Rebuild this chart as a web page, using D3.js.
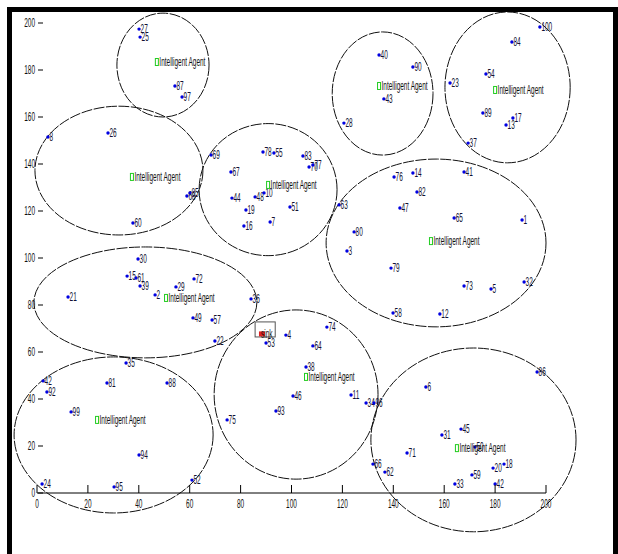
<!DOCTYPE html>
<html>
<head>
<meta charset="utf-8">
<script src="https://cdn.jsdelivr.net/npm/d3@7"></script>
<style>
  html, body { margin: 0; padding: 0; background: #fff; }
  svg { display: block; }
  text { font-family: "Liberation Sans", Arial, sans-serif; font-size: 12px; fill: #111; }
</style>
</head>
<body>
<svg id="chart" width="618" height="554"></svg>
<script>
// Sensor nodes: id label, x position, y position (field units)
const nodeIds = ["27","25","87","97","8","26","40","43","28","69","78","55","83","70","77","67","76",
  "100","84","90","23","54","89","13","17","37","41","14","82","47","65","1","73","5","32","12","58",
  "44","48","10","19","51","16","7","63","80","3","79","36","57","22","4","53","74","64","38","46",
  "93","75","11","34","96","66","62","71","86","6","45","31","50","20","18","59","33","42","68","85",
  "60","30","15","61","39","2","29","72","49","21","35","42","92","81","88","99","94","24","95","52"];
const nodeX = [40.1,40.5,54.2,57.0,4.3,27.9,134.4,136.3,120.6,68.4,88.8,93.1,104.5,106.9,108.4,76.2,140.3,
  197.6,186.6,147.7,162.3,176.4,175.2,184.3,187.0,169.4,167.8,147.7,149.3,142.6,163.9,190.6,167.8,178.4,191.4,158.3,139.9,
  76.6,85.7,89.2,82.1,99.4,81.3,91.6,118.7,124.6,121.8,139.1,84.1,68.8,69.9,97.8,90.0,113.9,108.4,105.7,100.6,
  93.9,74.7,123.4,129.3,132.4,132.0,136.7,145.4,196.5,152.8,166.6,159.1,172.1,179.2,183.5,170.9,164.2,180.0,58.9,60.1,
  37.7,39.7,35.4,38.9,40.5,46.4,54.6,61.7,61.3,12.2,35.0,2.4,3.9,27.5,51.1,13.4,40.1,2.0,30.3,60.9];
const nodeY = [197.4,194.0,173.2,168.5,151.5,153.2,186.4,167.7,157.4,143.8,145.1,144.7,143.4,138.7,139.6,136.6,134.5,
  198.3,191.9,181.3,174.5,178.3,161.7,156.6,159.6,148.9,136.6,136.2,128.1,121.3,117.0,116.2,88.1,86.8,89.8,76.2,76.6,
  125.5,126.0,127.7,120.4,121.7,113.6,115.3,122.6,111.1,103.0,95.7,82.6,73.6,64.7,67.2,63.8,70.6,62.6,53.6,41.3,
  34.9,31.1,41.7,38.3,38.3,12.3,8.9,17.0,51.5,45.1,27.2,24.7,19.6,10.6,12.3,7.7,3.8,3.8,126.4,127.7,
  114.9,99.6,92.3,91.5,88.1,84.3,87.7,91.1,74.5,83.4,55.3,47.7,43.0,46.8,46.8,34.5,16.2,3.8,2.6,5.5];

// Cluster regions: centre and radii (field units)
const clusterCx = [49.5, 32.2, 90.8, 135.8, 184.9, 156.8, 42.6, 30.1, 101.8, 171.5];
const clusterCy = [182.1, 137.2, 129.1, 170.0, 172.6, 106.4, 81.1, 24.7, 41.9, 22.6];
const clusterRx = [18.1, 33.0, 27.1, 19.8, 24.6, 43.2, 43.8, 39.1, 32.2, 40.3];
const clusterRy = [22.1, 27.4, 28.1, 26.2, 32.1, 35.7, 23.6, 33.2, 36.0, 39.1];

// Cluster-head agents
const agentX = [47.1, 37.3, 90.8, 134.4, 180.0, 154.8, 50.7, 23.6, 105.7, 165.0];
const agentY = [183.4, 134.5, 131.1, 173.2, 171.5, 107.2, 83.0, 31.1, 49.4, 19.1];
const agentLabel = "Intelligent Agent";

// Sink and its bounding box
const sinkX = 88.4, sinkY = 67.7;
const sinkBox = [85.7, 66.4, 93.6, 72.8];

const xTicks = [0, 20, 40, 60, 80, 100, 120, 140, 160, 180, 200];
const yTicks = [0, 20, 40, 60, 80, 100, 120, 140, 160, 180, 200];

const svg = d3.select("#chart");
const x = d3.scaleLinear().domain([0, 200]).range([37, 546]);
const y = d3.scaleLinear().domain([0, 200]).range([493, 23]);

// narrow text helper
const SX = 0.54;
function label(g, px, py, str, anchor) {
  return g.append("text")
    .attr("transform", `translate(${px},${py}) scale(${SX},1)`)
    .attr("text-anchor", anchor || "start")
    .attr("dy", "0.35em")
    .text(str);
}

// cluster ellipses
const clusters = d3.range(clusterCx.length);
svg.append("g").selectAll("ellipse").data(clusters).join("ellipse")
  .attr("cx", i => x(clusterCx[i]))
  .attr("cy", i => y(clusterCy[i]))
  .attr("rx", i => x(clusterRx[i]) - x(0))
  .attr("ry", i => y(0) - y(clusterRy[i]))
  .attr("fill", "none")
  .attr("stroke", "#111")
  .attr("stroke-width", 1)
  .attr("stroke-dasharray", "11,1.5");

// nodes
const gNodes = svg.append("g");
nodeIds.forEach((id, i) => {
  gNodes.append("circle")
    .attr("cx", x(nodeX[i])).attr("cy", y(nodeY[i]))
    .attr("r", 1.7).attr("fill", "#0000e0");
  label(gNodes, x(nodeX[i]) + 1.5, y(nodeY[i]), id).style("fill", "#111133");
});

// agents
const gAgents = svg.append("g");
agentX.forEach((ax, i) => {
  const px = x(ax), py = y(agentY[i]);
  gAgents.append("rect")
    .attr("x", px - 1.5).attr("y", py - 3.5)
    .attr("width", 3).attr("height", 7)
    .attr("fill", "none").attr("stroke", "#22cc22").attr("stroke-width", 1);
  label(gAgents, px + 2.5, py, agentLabel);
});

// sink
const gSink = svg.append("g");
gSink.append("rect")
  .attr("x", x(sinkBox[0])).attr("y", y(sinkBox[3]))
  .attr("width", x(sinkBox[2]) - x(sinkBox[0]))
  .attr("height", y(sinkBox[1]) - y(sinkBox[3]))
  .attr("fill", "none").attr("stroke", "#555").attr("stroke-width", 1);
gSink.append("rect")
  .attr("x", x(sinkX) - 3).attr("y", y(sinkY) - 2.5)
  .attr("width", 6).attr("height", 5)
  .attr("fill", "#dd2222");
label(gSink, x(sinkX) - 1, y(sinkY), "sink");

// x axis
const gx = svg.append("g");
gx.append("line")
  .attr("x1", x(0)).attr("x2", x(200))
  .attr("y1", y(0)).attr("y2", y(0))
  .attr("stroke", "#000").attr("stroke-width", 1);
xTicks.forEach(t => {
  gx.append("line")
    .attr("x1", x(t)).attr("x2", x(t))
    .attr("y1", y(0)).attr("y2", y(0) - 8)
    .attr("stroke", "#000").attr("stroke-width", 1);
  label(gx, x(t), y(0) + 11, String(t), "middle");
});

// y axis ticks
const gy = svg.append("g");
yTicks.forEach(t => {
  gy.append("line")
    .attr("x1", x(0) + 1).attr("x2", x(0) + 6)
    .attr("y1", y(t)).attr("y2", y(t))
    .attr("stroke", "#000").attr("stroke-width", 1);
  label(gy, x(0) - 2, y(t), String(t), "end");
});

// figure frame
svg.append("rect").attr("x", 7).attr("y", 7).attr("width", 611).attr("height", 5).attr("fill", "#000");
svg.append("rect").attr("x", 7).attr("y", 7).attr("width", 5).attr("height", 547).attr("fill", "#000");
svg.append("rect").attr("x", 613).attr("y", 7).attr("width", 5).attr("height", 547).attr("fill", "#000");
</script>
</body>
</html>
